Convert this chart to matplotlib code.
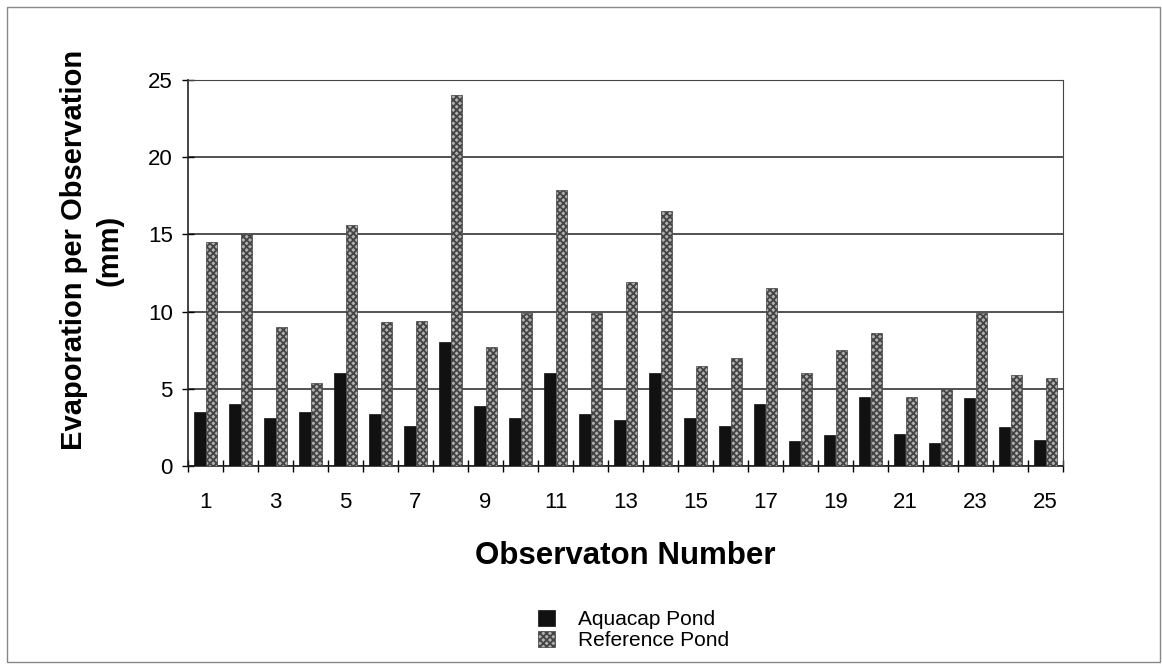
import matplotlib
matplotlib.use("Agg")
import matplotlib.pyplot as plt
import numpy as np
from matplotlib.patches import Rectangle

# Observation numbers and evaporation values (mm)
observations = list(range(1, 26))
aquacap = [3.5, 4.0, 3.1, 3.5, 6.0, 3.4, 2.6, 8.0, 3.9, 3.1,
           6.0, 3.4, 3.0, 6.0, 3.1, 2.6, 4.0, 1.6, 2.0, 4.5,
           2.1, 1.5, 4.4, 2.5, 1.7]
reference = [14.5, 15.0, 9.0, 5.4, 15.6, 9.3, 9.4, 24.0, 7.7, 9.9,
             17.9, 9.9, 11.9, 16.5, 6.5, 7.0, 11.5, 6.0, 7.5, 8.6,
             4.5, 5.0, 9.9, 5.9, 5.7]
tick_labels = [str(n) if n % 2 == 1 else "" for n in observations]

plt.rcParams["font.family"] = ["Liberation Sans", "DejaVu Sans"]
plt.rcParams["hatch.color"] = "#2a2a2a"
plt.rcParams["hatch.linewidth"] = 1.3

fig = plt.figure(figsize=(11.62, 6.67), dpi=100)
ax = fig.add_axes([188 / 1162, 1 - 466 / 667, (1063 - 188) / 1162, (466 - 80) / 667])

x = np.array(observations, dtype=float)
w = 0.34
ax.bar(x - w / 2, aquacap, width=w, color="#111111", edgecolor="#111111",
       linewidth=0.5, label="Aquacap Pond", zorder=3)
ax.bar(x + w / 2, reference, width=w, color="#b0b0b0", edgecolor="#444444",
       hatch="xxxxx", linewidth=0.5, label="Reference Pond", zorder=3)

ax.set_xlim(0.5, 25.5)
ax.set_ylim(0, 25)
ax.set_yticks(np.arange(0, 26, 5))
ax.yaxis.grid(True, color="#222222", linewidth=1.1, zorder=0)
ax.set_axisbelow(True)

# Category labels centred, tick marks between categories
ax.set_xticks(x)
ax.set_xticklabels(tick_labels, fontsize=16)
ax.tick_params(axis="x", length=0, pad=19)
ax.set_xticks(np.arange(0.5, 26, 1), minor=True)
ax.tick_params(axis="x", which="minor", length=8, direction="inout", width=1)
ax.tick_params(axis="y", labelsize=16, length=8, direction="inout", width=1, pad=7)

for side in ["top", "right"]:
    ax.spines[side].set_color("#444444")
for side in ["left", "bottom"]:
    ax.spines[side].set_color("#222222")
    ax.spines[side].set_linewidth(1.2)

ax.set_xlabel("Observaton Number", fontsize=22.5, fontweight="bold", labelpad=20)
fig.text(92 / 1162, 1 - 250 / 667, "Evaporation per Observation\n(mm)",
         rotation=90, ha="center", va="center", multialignment="center",
         fontsize=21, fontweight="bold", linespacing=1.35)

fig.legend(loc="center left", bbox_to_anchor=(538 / 1162, 1 - 630 / 667),
           frameon=False, fontsize=15, handlelength=0.82, handleheight=0.82,
           handletextpad=1.1, labelspacing=0.08, borderpad=0, borderaxespad=0)

# Outer frame around the whole chart
fig.patches.append(Rectangle((0.006, 0.008), 0.992, 0.982, transform=fig.transFigure,
                             fill=False, edgecolor="#888888", linewidth=1))

fig.savefig("out.png", dpi=100)
